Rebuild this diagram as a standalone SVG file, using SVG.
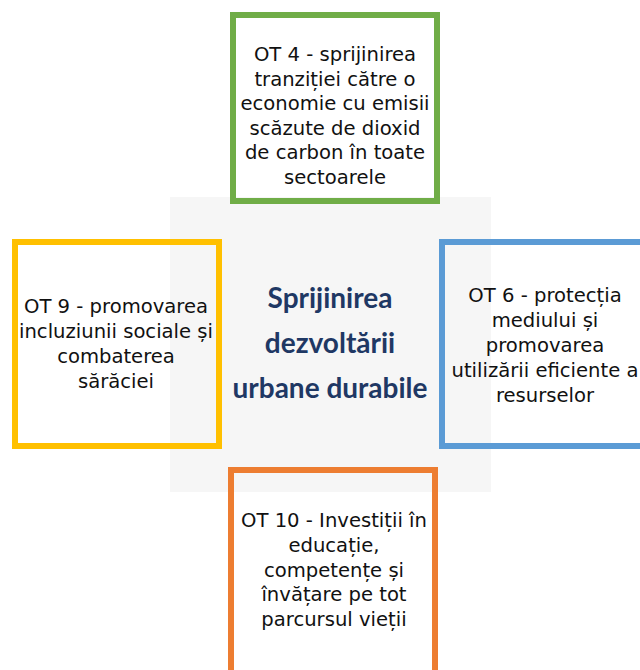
<svg xmlns="http://www.w3.org/2000/svg" width="640" height="670" viewBox="0 0 640 670">
<style>
.box{fill:none;stroke-width:6}
.t{font-family:"DejaVu Sans",Lato,sans-serif;font-size:19.6px;fill:#111;text-anchor:middle}
.c{font-family:Lato,"Open Sans","Liberation Sans",sans-serif;font-size:28px;font-weight:bold;fill:#1f3864;text-anchor:middle}
</style>
<rect width="640" height="670" fill="#ffffff"/>
<g id="center">
<rect x="170" y="197" width="321" height="295" fill="#f6f6f6"/>
<text class="c" x="330" y="308">Sprijinirea</text>
<text class="c" x="330" y="353">dezvoltării</text>
<text class="c" x="330" y="398">urbane durabile</text>
</g>
<g id="ot4">
<rect class="box" x="233" y="15" width="204" height="186" stroke="#70ad47"/>
<text class="t" x="335" y="61">OT 4 - sprijinirea</text>
<text class="t" x="335" y="85.5">tranziției către o</text>
<text class="t" x="335" y="110">economie cu emisii</text>
<text class="t" x="335" y="134.5">scăzute de dioxid</text>
<text class="t" x="335" y="159">de carbon în toate</text>
<text class="t" x="335" y="183.5">sectoarele</text>
</g>
<g id="ot9">
<rect class="box" x="15" y="242" width="204" height="204" stroke="#ffc000"/>
<text class="t" x="116" y="313">OT 9 - promovarea</text>
<text class="t" x="116" y="338">incluziunii sociale și</text>
<text class="t" x="116" y="363">combaterea</text>
<text class="t" x="116" y="388">sărăciei</text>
</g>
<g id="ot6">
<rect class="box" x="442" y="242" width="204" height="204" stroke="#5b9bd5"/>
<text class="t" x="545" y="302">OT 6 - protecția</text>
<text class="t" x="545" y="327">mediului și</text>
<text class="t" x="545" y="352">promovarea</text>
<text class="t" x="545" y="377">utilizării eficiente a</text>
<text class="t" x="545" y="402">resurselor</text>
</g>
<g id="ot10">
<rect class="box" x="231" y="470" width="204" height="204" stroke="#ed7d31"/>
<text class="t" x="334" y="527">OT 10 - Investiții în</text>
<text class="t" x="334" y="552">educație,</text>
<text class="t" x="334" y="577">competențe și</text>
<text class="t" x="334" y="601">învățare pe tot</text>
<text class="t" x="334" y="626">parcursul vieții</text>
</g>
<g id="connectors"></g>
</svg>
